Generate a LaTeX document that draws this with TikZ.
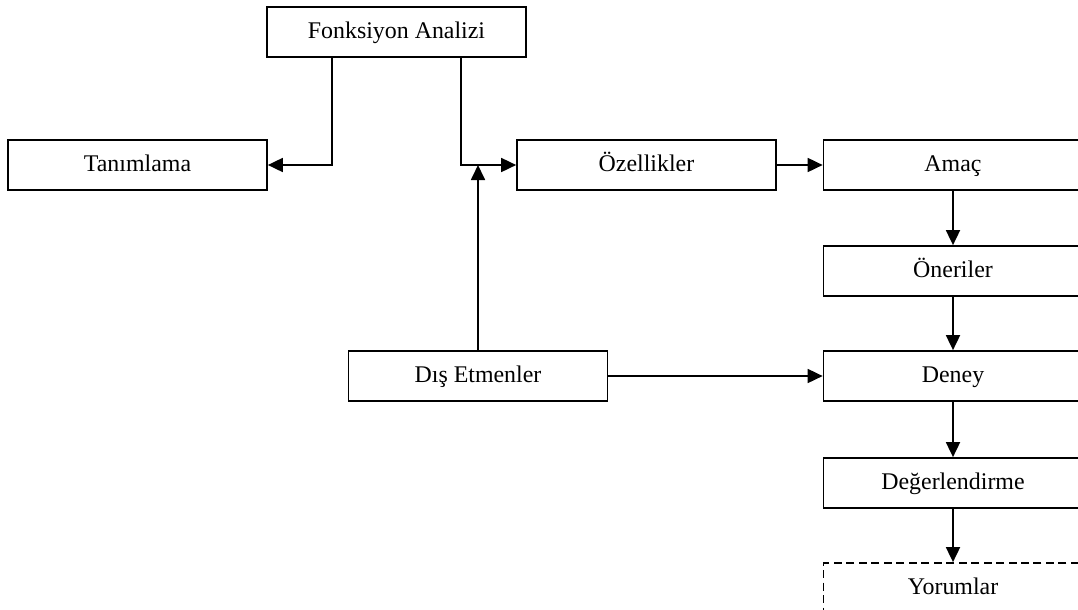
\documentclass[tikz,border=0pt]{standalone}
\usepackage{fontspec}
\setmainfont{Liberation Serif}
\usetikzlibrary{arrows.meta}

\begin{document}
\begin{tikzpicture}[x=0.02cm, y=-0.02cm, line width=1pt,
  box/.style={draw, shape=rectangle, minimum width=5.18cm, minimum height=1cm, inner sep=0pt, text height=10pt, text depth=3pt, font=\fontsize{13.6}{16}\selectfont},
  dbox/.style={box, dashed, dash pattern=on 0.16cm off 0.09cm},
  arr/.style={-{Triangle[length=0.3cm, width=0.28cm]}}]
\useasboundingbox (0,0) rectangle (1078,609);
\clip (0,0) rectangle (1078,609);
\node[box]  (fa)    at (396.5, 32)  {Fonksiyon Analizi};
\node[box]  (tan)   at (137.5, 165) {Tanımlama};
\node[box]  (oz)    at (646.5, 165) {Özellikler};
\node[box]  (amac)  at (953, 165)   {Amaç};
\node[box]  (oner)  at (953, 271)   {Öneriler};
\node[box]  (dis)   at (478, 376)   {Dış Etmenler};
\node[box]  (deney) at (953, 376)   {Deney};
\node[box]  (deger) at (953, 483)   {Değerlendirme};
\node[dbox] (yorum) at (953, 588)   {Yorumlar};
\coordinate (j) at (dis.north |- oz.west);
\draw [arr] ([xshift=-1.29cm]fa.south) |- (tan.east);
\draw [arr] ([xshift=1.29cm]fa.south) |- (oz.west);
\foreach \from/\to in {dis.north/j, oz.east/amac.west, dis.east/deney.west, amac/oner, oner/deney, deney/deger, deger/yorum}
\draw [arr] (\from) -- (\to);
\end{tikzpicture}
\end{document}
